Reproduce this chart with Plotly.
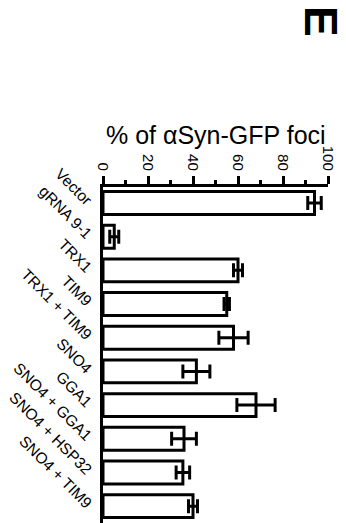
import plotly.graph_objects as go

# Strains / constructs and measured foci percentages (mean ± error)
categories = ["Vector", "gRNA 9-1", "TRX1", "TIM9", "TRX1 + TIM9", "SNO4",
              "GGA1", "SNO4 + GGA1", "SNO4 + HSP32", "SNO4 + TIM9"]
foci_pct = [94, 5, 60, 55, 58, 41.5, 68, 36, 35.5, 40]
foci_err = [3, 2, 2, 1.2, 6.5, 6, 8.5, 5.5, 3, 2]
x_tick_vals = [0, 20, 40, 60, 80, 100]
x_tick_text = ["0", "20", "40", "60", "80", "100"]

FONT = "Liberation Sans, Arial, sans-serif"

fig = go.Figure()
fig.add_trace(go.Bar(
    y=categories,
    x=foci_pct,
    orientation="h",
    width=0.68,
    marker=dict(color="white", line=dict(color="black", width=3)),
    error_x=dict(type="data", array=foci_err, color="black",
                 thickness=3, width=7),
    showlegend=False,
))

fig.update_layout(
    width=346, height=523,
    margin=dict(l=103, r=18, t=187, b=0),
    paper_bgcolor="white", plot_bgcolor="white",
    font=dict(family=FONT, color="black"),
    xaxis=dict(
        side="top", range=[0, 100],
        tickvals=x_tick_vals, ticktext=x_tick_text, tickangle=90,
        tickfont=dict(size=15),
        ticks="outside", ticklen=8, tickwidth=3, tickcolor="black",
        minor=dict(dtick=10, tick0=0, ticks="outside", ticklen=4,
                   tickwidth=3, tickcolor="black"),
        showline=True, linewidth=3, linecolor="black",
        showgrid=False, zeroline=False,
    ),
    yaxis=dict(
        type="category", range=[9.5, -0.475],
        tickangle=45, tickfont=dict(size=15.5),
        ticks="", ticklabelstandoff=6,
        showline=True, linewidth=3, linecolor="black",
        showgrid=False, zeroline=False,
    ),
    annotations=[
        dict(text="% of αSyn-GFP foci", xref="paper", yref="paper",
             x=0.5, y=1, yanchor="middle", yshift=52, showarrow=False,
             font=dict(size=25, family=FONT)),
        dict(text="<b>E</b>", xref="paper", yref="paper",
             x=1, y=1, xanchor="center", yanchor="middle",
             xshift=-7, yshift=187 - 21, textangle=90, showarrow=False,
             font=dict(size=46, family=FONT)),
    ],
)

fig.write_html("out.html")
